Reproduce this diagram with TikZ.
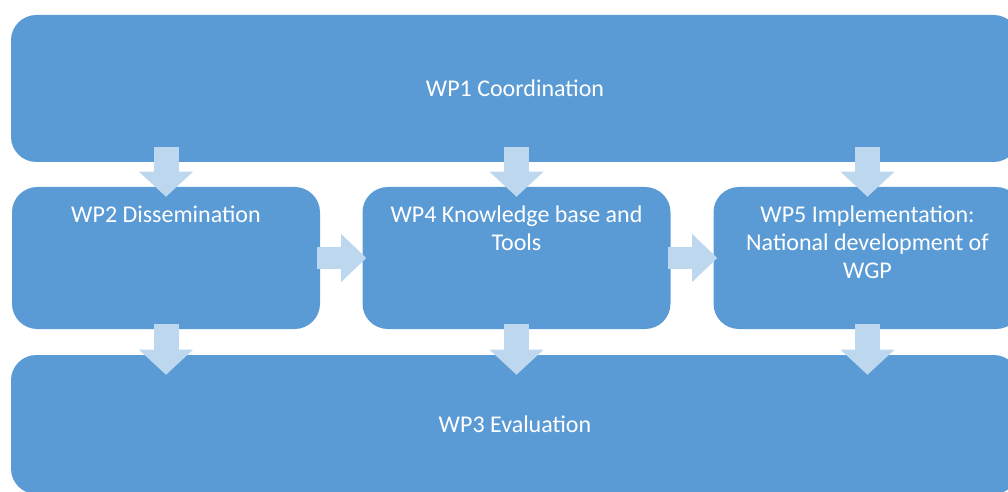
\documentclass[tikz,border=0pt]{standalone}
\usepackage{fontspec}
\setmainfont{Carlito}
\usetikzlibrary{arrows.meta}
\definecolor{wpBlue}{HTML}{5B9BD5}
\definecolor{wpArrow}{HTML}{BDD7EE}
\newcommand{\wptext}[1]{\parbox[c][82pt][t]{220pt}{\centering\strut #1\strut}}

\begin{document}
\begin{tikzpicture}[x=0.75pt, y=-0.75pt,
    wpbar/.style={rectangle, rounded corners=19pt, fill=wpBlue,
      minimum width=756pt, inner sep=0pt,
      font=\fontsize{18}{21}\selectfont, text=white},
    wpbox/.style={rectangle, rounded corners=19pt, fill=wpBlue,
      minimum width=231pt, minimum height=106.5pt, inner sep=0pt,
      font=\fontsize{18}{21}\selectfont, text=white},
    vflow/.style={draw=wpArrow, line width=18.75pt,
      -{Triangle[width=40.5pt, length=18.75pt, line width=0pt]}},
    hflow/.style={draw=wpArrow, line width=16.5pt,
      -{Triangle[width=36pt, length=18.75pt, line width=0pt]}}]
  \useasboundingbox (0,0) rectangle (1008,492);
  \clip (0,0) rectangle (1008,492);

  % work packages
  \node[wpbar, minimum height=110.25pt] (wp1) at (515,88.5) {WP1 Coordination};
  \node[wpbox] (wp2) at (166,258) {\wptext{WP2 Dissemination}};
  \node[wpbox] (wp4) at (516.5,258) {\wptext{WP4 Knowledge base and\\Tools}};
  \node[wpbox] (wp5) at (867.5,258)
    {\wptext{WP5 Implementation:\\National development of\\WGP}};
  \node[wpbar, minimum height=104.25pt] (wp3) at (515,424.5) {WP3 Evaluation};

  % block arrows
  \foreach \wp in {wp2,wp4,wp5}{
    \draw[vflow] ([yshift=11.25pt]wp1.south -| \wp.north) -- ([yshift=-7.5pt]\wp.north);
    \draw[vflow] ([yshift=3.75pt]\wp.south) -- ([yshift=-15pt]wp3.north -| \wp.south);
  }
  \draw[hflow] ([xshift=-2.25pt]wp2.east) -- ([xshift=3pt]wp4.west);
  \draw[hflow] ([xshift=-2.25pt]wp4.east) -- ([xshift=3pt]wp5.west);
\end{tikzpicture}
\end{document}
